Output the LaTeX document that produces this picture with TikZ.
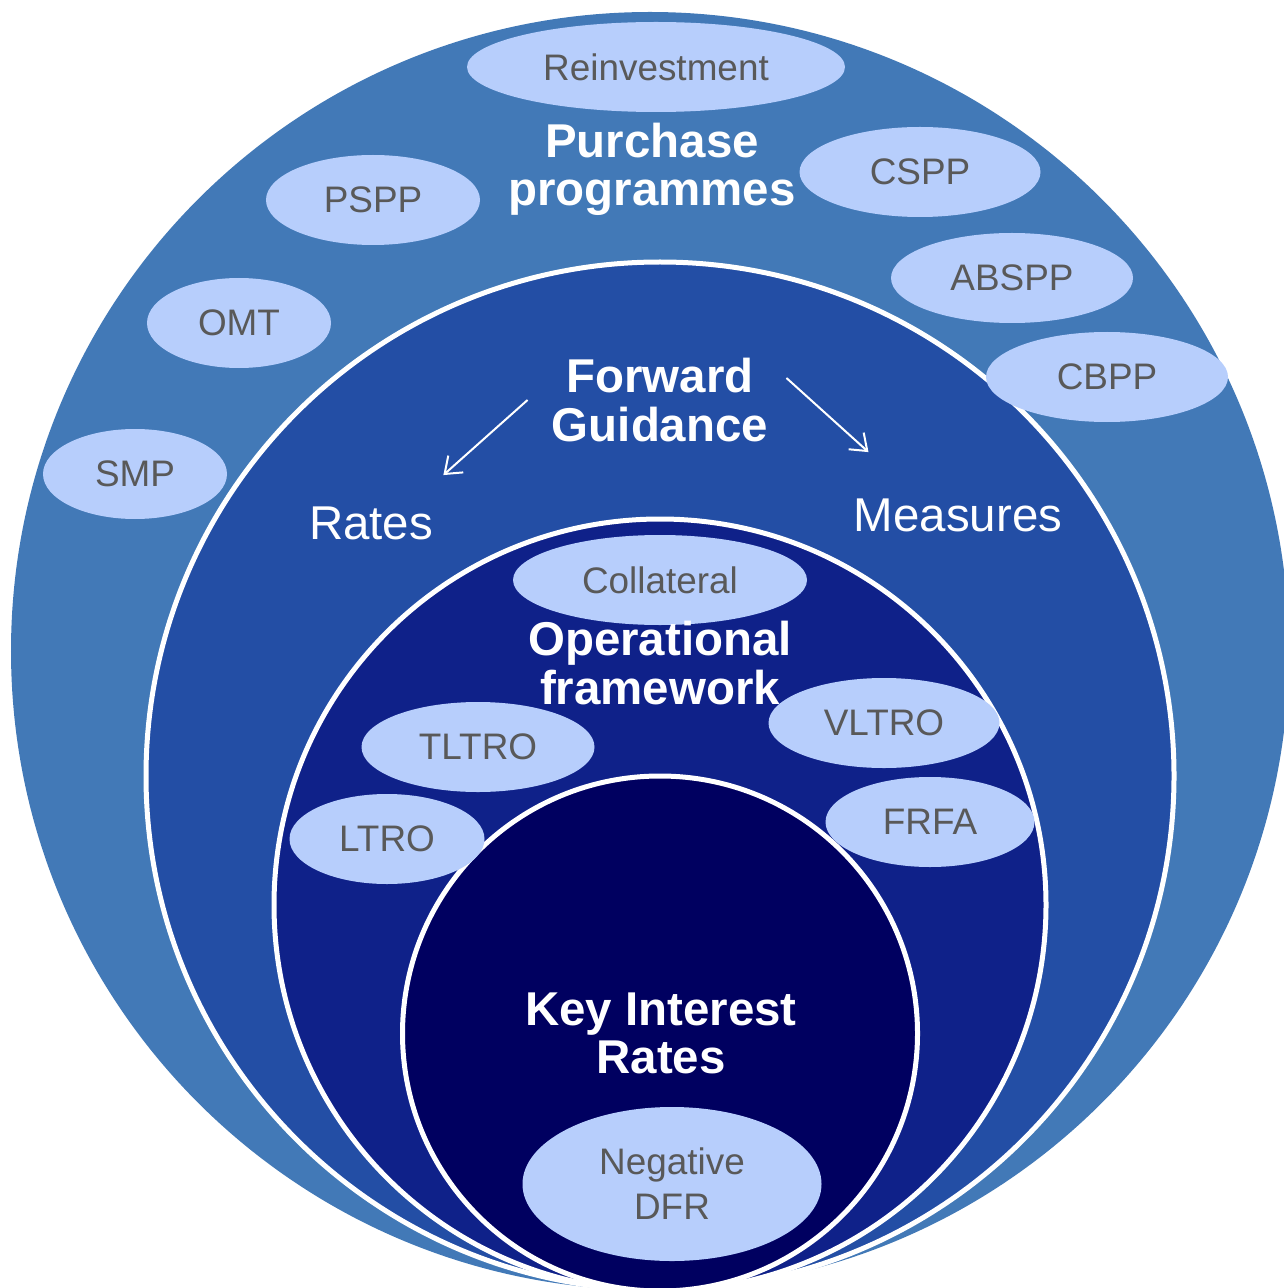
\documentclass[tikz,border=0pt]{standalone}
\usepackage{fontspec}
\setmainfont{Liberation Sans}
\usetikzlibrary{shapes.geometric,arrows.meta}
\definecolor{ppblue}{HTML}{4279B7}
\definecolor{fgblue}{HTML}{234EA5}
\definecolor{ofblue}{HTML}{0F2189}
\definecolor{kirblue}{HTML}{000060}
\definecolor{toolfill}{HTML}{B7CEFC}
\definecolor{toolgray}{HTML}{595959}
\newcommand\toolfont{\fontsize{21}{25.6}\selectfont}
\newcommand\ringfont{\fontsize{27}{27.4}\selectfont}

\begin{document}
\begin{tikzpicture}[
  ring/.style={circle, draw=white, line width=0.1cm, inner sep=0},
  tool/.style={ellipse, fill=toolfill, text=toolgray, font=\toolfont, inner sep=0, minimum height=1.8cm, align=center},
  ringtitle/.style={text=white, font=\ringfont\bfseries, inner sep=0, align=center},
  fgtarget/.style={text=white, font=\ringfont, inner sep=0},
  fgarrow/.style={draw=white, line width=0.04cm, -{Straight Barb[length=0.3cm,width=0.45cm]}}
]
\useasboundingbox (0,0) rectangle (25.66,-25.76);

\node[ring, fill=ppblue, draw=none, minimum size=25.56cm] (pp) at (13.0,-13.02) {};
\node[ring, fill=fgblue, minimum size=20.56cm] (fg) at (13.2,-15.52) {};
\node[ring, fill=ofblue, minimum size=15.44cm] (of) at (13.2,-18.1) {};
\node[ring, fill=kirblue, minimum size=10.3cm] (kir) at (13.2,-20.67) {};

\node[tool, minimum width=7.56cm] (reinv) at (13.12,-1.34) {Reinvestment};
\node[tool, minimum width=4.28cm] (pspp) at (7.46,-4.0) {PSPP};
\node[tool, minimum width=4.82cm] (cspp) at (18.4,-3.44) {CSPP};
\node[tool, minimum width=3.68cm] (omt) at (4.78,-6.46) {OMT};
\node[tool, minimum width=4.84cm] (abspp) at (20.24,-5.56) {ABSPP};
\node[tool, minimum width=4.84cm] (cbpp) at (22.14,-7.54) {CBPP};
\node[tool, minimum width=3.68cm] (smp) at (2.7,-9.48) {SMP};
\node[tool, minimum width=5.88cm] (coll) at (13.2,-11.6) {Collateral};
\node[tool, minimum width=4.66cm] (tltro) at (9.56,-14.94) {TLTRO};
\node[tool, minimum width=3.9cm] (ltro) at (7.74,-16.78) {LTRO};
\node[tool, minimum width=4.62cm] (vltro) at (17.68,-14.46) {VLTRO};
\node[tool, minimum width=4.18cm] (frfa) at (18.6,-16.44) {FRFA};
\node[tool, minimum width=5.98cm, minimum height=3.08cm] (ndfr) at (13.44,-23.68) {Negative\\DFR};

\node[ringtitle] (pptitle) at (13.04,-3.38) {Purchase\\programmes};
\node[ringtitle] (fgtitle) at (13.2,-8.0) {Forward\\Guidance};
\node[ringtitle] (oftitle) at (13.2,-13.26) {Operational\\framework};
\node[ringtitle] (kirtitle) at (13.22,-20.66) {Key Interest\\Rates};

\node[fgtarget] (rates) at (7.42,-10.46) {Rates};
\node[fgtarget] (measures) at (19.16,-10.3) {Measures};

\draw[fgarrow] ([shift={(-0.48,0.0)}]fgtitle.west) -- ([shift={(0.2,0.62)}]rates.north east);
\draw[fgarrow] ([shift={(0.36,0.44)}]fgtitle.east) -- ([shift={(0.3,0.92)}]measures.north west);
\end{tikzpicture}
\end{document}
